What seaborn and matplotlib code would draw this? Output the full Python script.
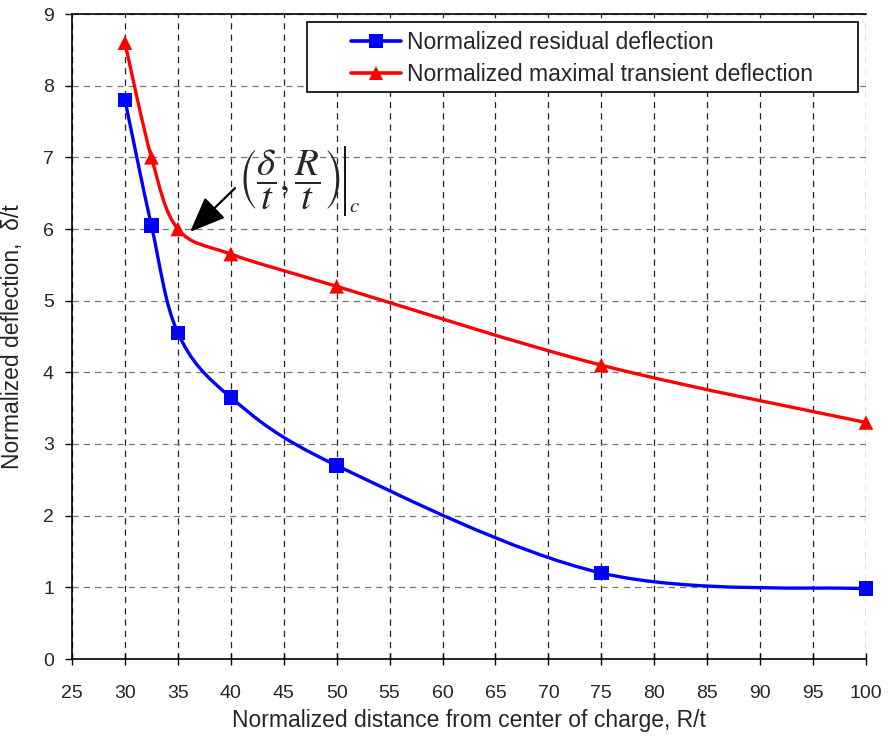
import numpy as np
import pandas as pd
import matplotlib
matplotlib.use("Agg")
import matplotlib.pyplot as plt
import seaborn as sns
from matplotlib.path import Path
from matplotlib.patches import PathPatch, Rectangle
from matplotlib.lines import Line2D

# ---------------- data ----------------
distance = [30, 32.5, 35, 40, 50, 75, 100]
residual = [7.8, 6.05, 4.55, 3.65, 2.7, 1.2, 0.98]
maximal = [8.6, 7.0, 6.0, 5.65, 5.2, 4.1, 3.3]
series_names = ["Normalized residual deflection",
                "Normalized maximal transient deflection"]
x_ticks = list(range(25, 101, 5))
y_ticks = list(range(0, 10))
x_label = "Normalized distance from center of charge, R/t"
y_label = "Normalized deflection,  \u03b4/t"
annot_text = r"$\left(\dfrac{\delta}{t},\dfrac{R}{t}\right)$"
annot_sub = r"$c$"

colors = {series_names[0]: "#0000FF", series_names[1]: "#FF0000"}
markers = {series_names[0]: "s", series_names[1]: "^"}

df = pd.DataFrame({
    "distance": distance * 2,
    "value": residual + maximal,
    "series": [series_names[0]] * len(distance) + [series_names[1]] * len(distance),
})

# ---------------- style ----------------
sns.set_theme(style="white")
plt.rcParams["font.family"] = ["Liberation Sans", "DejaVu Sans"]
plt.rcParams["mathtext.fontset"] = "stix"

W, H = 888, 745
fig = plt.figure(figsize=(W / 100, H / 100), dpi=100)
L, R, T, B = 72, 866, 14, 659
ax = fig.add_axes([L / W, 1 - B / H, (R - L) / W, (B - T) / H])


def smooth_path(xs, ys):
    P = np.column_stack([xs, ys]).astype(float)
    n = len(P)
    verts = [P[0]]
    codes = [Path.MOVETO]
    for i in range(n - 1):
        p0 = P[i - 1] if i > 0 else P[i]
        p1 = P[i]
        p2 = P[i + 1]
        p3 = P[i + 2] if i + 2 < n else P[i + 1]
        c1 = p1 + (p2 - p0) / 6.0
        c2 = p2 - (p3 - p1) / 6.0
        verts += [c1, c2, p2]
        codes += [Path.CURVE4] * 3
    return Path(verts, codes)


for name, ys in zip(series_names, [residual, maximal]):
    patch = PathPatch(smooth_path(distance, ys), facecolor="none",
                      edgecolor=colors[name], lw=2.4, zorder=3,
                      capstyle="round", joinstyle="round")
    ax.add_patch(patch)

sns.scatterplot(data=df, x="distance", y="value", hue="series", style="series",
                palette=colors, markers=markers, s=110, linewidth=0,
                legend=False, ax=ax, zorder=4, clip_on=False)

ax.set_xlim(25, 100)
ax.set_ylim(0, 9)
ax.set_xticks(x_ticks)
ax.set_yticks(y_ticks)
ax.set_xticklabels([str(v) for v in x_ticks], fontsize=14)
ax.set_yticklabels([str(v) for v in y_ticks], fontsize=14)

ax.set_axisbelow(True)
ax.xaxis.grid(True, color="#222222", linestyle=(0, (5, 4)), lw=0.9)
ax.yaxis.grid(True, color="#777777", linestyle=(0, (5, 4)), lw=0.9)

for s in ["left", "bottom", "top"]:
    ax.spines[s].set_color("black")
    ax.spines[s].set_linewidth(1.2)
ax.spines["right"].set_visible(False)

ax.tick_params(axis="x", direction="inout", length=8, width=1, color="black",
               pad=15, bottom=True)
ax.tick_params(axis="y", direction="out", length=5, width=1, color="black",
               pad=8, left=True)

ax.set_xlabel(x_label, fontsize=16.5, labelpad=5)
ax.set_ylabel(y_label, fontsize=16.5, labelpad=14)

# annotation arrow
ax.annotate("", xy=(36.15, 5.96), xytext=(40.4, 6.57),
            arrowprops=dict(arrowstyle="-|>,head_length=1.1,head_width=0.45",
                            color="black", lw=1.6, mutation_scale=20,
                            shrinkA=0, shrinkB=0), zorder=6)
txt = ax.text(40.68, 6.684, annot_text, fontsize=28, ha="left", va="center",
              zorder=6)

# legend with custom frame
frame = Rectangle((307 / W, 1 - 92 / H), (858 - 307) / W, 70 / H,
                  transform=fig.transFigure, facecolor="white",
                  edgecolor="black", lw=1.2, zorder=5)
ax.add_patch(frame)
frame.set_clip_on(False)

handles = [Line2D([0], [0], color=colors[n], lw=2.6, marker=markers[n],
                  markersize=10, markeredgewidth=0) for n in series_names]
leg = ax.legend(handles, series_names, loc="upper left",
                bbox_to_anchor=(351 / W, 1 - 31 / H),
                bbox_transform=fig.transFigure, frameon=False, fontsize=16.5,
                handlelength=2.2, handletextpad=0.25, borderpad=0,
                borderaxespad=0, labelspacing=0.4)
leg.set_zorder(7)

# evaluation bar "|_c" placed relative to the rendered bracket text
fig.canvas.draw()
bb = txt.get_window_extent(renderer=fig.canvas.get_renderer())
inv = ax.transData.inverted()
bx = bb.x1 + 4
(xb0, yb0) = inv.transform((bx, bb.y0 - 4))
(xb1, yb1) = inv.transform((bx, bb.y1 + 2))
ax.plot([xb0, xb1], [yb0, yb1], color="black", lw=1.3, zorder=6,
        solid_capstyle="butt")
(xc, yc) = inv.transform((bx + 4, bb.y0 - 4))
ax.text(xc, yc, annot_sub, fontsize=15, ha="left", va="bottom", zorder=6)

fig.savefig("out.png", dpi=100)
